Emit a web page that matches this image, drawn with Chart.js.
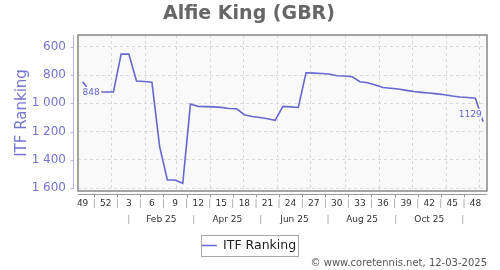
<!DOCTYPE html>
<html>
<head>
<meta charset="utf-8">
<script src="https://cdn.jsdelivr.net/npm/chart.js@4.4.1/dist/chart.umd.min.js"></script>
<style>
html,body{margin:0;padding:0;background:#ffffff;}
#c{display:block;}
</style>
</head>
<body>
<canvas id="c" width="500" height="270" style="width:500px;height:270px"></canvas>
<script>
// ---------- data ----------
const chartTitle = 'Alfie King (GBR)';
const seriesName = 'ITF Ranking';
const creditText = '\u00A9 www.coretennis.net, 12-03-2025';
// weekly ranking, week 49 (2024) .. week 49 (2025)
const rankings = [
  848, 920, 920, 920, 920, 652, 652, 842, 846, 851,
  1306, 1541, 1541, 1565, 1005, 1021, 1023, 1025, 1028, 1036,
  1038, 1080, 1093, 1100, 1108, 1120, 1021, 1025, 1029, 784,
  786, 789, 792, 805, 807, 812, 847, 854, 870, 888,
  893, 899, 908, 916, 922, 927, 933, 939, 948, 955,
  959, 963, 1129
];
const weekTickLabels = ['49','52','3','6','9','12','15','18','21','24','27','30','33','36','39','42','45','48'];
const weekTickStep = 3;
const yTicks = [600, 800, 1000, 1200, 1400, 1600];
const monthLabels = ['Feb 25', 'Apr 25', 'Jun 25', 'Aug 25', 'Oct 25'];
const monthLabelMonths = [[2025,1],[2025,3],[2025,5],[2025,7],[2025,9]];
const monthSepMonths = [[2025,0],[2025,2],[2025,4],[2025,6],[2025,8],[2025,10]];
const monthGridStarts = [[2025,0],[2025,1],[2025,2],[2025,3],[2025,4],[2025,5],[2025,6],[2025,7],[2025,8],[2025,9],[2025,10],[2025,11]];
const firstPointDate = Date.UTC(2024, 11, 5, 12);

// ---------- helpers ----------
const WEEK = 7 * 86400000;
const posOfDate = t => (t - firstPointDate) / WEEK;
const monthStart = ([y, m]) => posOfDate(Date.UTC(y, m, 1));
const monthMid = ([y, m]) => (posOfDate(Date.UTC(y, m, 1)) + posOfDate(Date.UTC(y, m + 1, 1))) / 2;

const weekTicks = [];
weekTickLabels.forEach((lab, i) => {
  weekTicks.push({ value: i * weekTickStep, label: lab });
  if (i < weekTickLabels.length - 1) weekTicks.push({ value: i * weekTickStep + weekTickStep / 2, label: '|' });
});
const monthTicks = [];
monthSepMonths.forEach((m, i) => {
  monthTicks.push({ value: monthMid(m), label: '|' });
  if (i < monthLabels.length) monthTicks.push({ value: monthMid(monthLabelMonths[i]), label: monthLabels[i] });
});
const gridTicks = monthGridStarts.map(m => ({ value: monthStart(m) }));

const LINE = '#6767d0';
const AXIS_TEXT = '#7373d0';
const PLOT_BG = '#f9f9f9';
const fmt = v => String(v).replace(/\B(?=(\d{3})+(?!\d))/g, ' ');

Chart.defaults.font.family = "'DejaVu Sans', sans-serif";

const decor = {
  id: 'decor',
  beforeDraw(chart) {
    const { ctx, chartArea: a } = chart;
    ctx.save();
    ctx.fillStyle = PLOT_BG;
    ctx.fillRect(a.left, a.top, a.right - a.left, a.bottom - a.top);
    ctx.restore();
  },
  afterDatasetsDraw(chart) {
    const { ctx } = chart;
    const meta = chart.getDatasetMeta(0);
    const n = meta.data.length;
    const p0 = meta.data[0], pN = meta.data[n - 1];
    const v0 = rankings[0], vN = rankings[n - 1];
    ctx.save();
    ctx.font = "9px 'DejaVu Sans'";
    ctx.textBaseline = 'alphabetic';
    // first label (below right)
    let t = String(v0), w = ctx.measureText(t).width;
    let bx = p0.x, by = p0.y + 13;
    ctx.fillStyle = PLOT_BG;
    ctx.fillRect(bx, by - 8, w + 1.5, 10);
    ctx.fillStyle = LINE;
    ctx.textAlign = 'left';
    ctx.fillText(t, bx, by);
    // last label (above left)
    t = String(vN); w = ctx.measureText(t).width;
    bx = pN.x - 1.5; by = pN.y - 5;
    ctx.fillStyle = PLOT_BG;
    ctx.fillRect(bx - w - 1, by - 8, w + 1.5, 10);
    ctx.fillStyle = LINE;
    ctx.textAlign = 'right';
    ctx.fillText(t, bx, by);
    ctx.restore();
  },
  afterDraw(chart) {
    const { ctx, chartArea: a, scales } = chart;
    ctx.save();
    // plot frame
    ctx.strokeStyle = '#868686';
    ctx.lineWidth = 1.5;
    ctx.strokeRect(a.left, a.top, a.right - a.left, a.bottom - a.top);
    // detached y axis line with ticks
    ctx.lineWidth = 1;
    ctx.strokeStyle = '#b6b6e6';
    const yx = Math.round(a.left - 5) + 0.5;
    ctx.beginPath();
    ctx.moveTo(yx, a.top);
    ctx.lineTo(yx, a.bottom - 2);
    scales.y.ticks.forEach(tk => {
      const py = Math.round(scales.y.getPixelForValue(tk.value)) + 0.5;
      ctx.moveTo(yx, py);
      ctx.lineTo(yx - 3, py);
    });
    ctx.stroke();
    // detached x axis line with ticks at separators
    ctx.strokeStyle = '#9a9a9a';
    const xy = Math.round(a.bottom + 3) + 0.5;
    ctx.beginPath();
    ctx.moveTo(a.left, xy);
    ctx.lineTo(a.right, xy);
    scales.x.ticks.forEach(tk => {
      if (tk.label !== '|') return;
      const px = Math.round(scales.x.getPixelForValue(tk.value)) + 0.5;
      ctx.moveTo(px, xy);
      ctx.lineTo(px, xy + 3);
    });
    ctx.stroke();
    // legend frame
    const hb = chart.legend.legendHitBoxes[0];
    if (hb) {
      ctx.strokeStyle = '#a8a8a8';
      ctx.strokeRect(Math.round(hb.left - 1) + 0.5, Math.round(hb.top - 4.5) + 0.5, Math.round(hb.width + 3), 21);
    }
    ctx.restore();
  }
};

new Chart(document.getElementById('c'), {
  type: 'line',
  data: {
    datasets: [{
      label: seriesName,
      data: rankings.map((v, i) => ({ x: i, y: v })),
      borderColor: LINE,
      backgroundColor: LINE,
      borderWidth: 1.6,
      pointRadius: 0,
      tension: 0,
      fill: false,
      xAxisID: 'x',
      yAxisID: 'y'
    }]
  },
  options: {
    responsive: false,
    animation: false,
    events: [],
    layout: { padding: { left: 11, right: 13, top: 0, bottom: 0 } },
    plugins: {
      tooltip: { enabled: false },
      title: {
        display: true, text: chartTitle, color: '#666666',
        font: { size: 19, weight: 'bold' },
        padding: { top: 2.5, bottom: 9.7 }
      },
      subtitle: {
        display: true, text: creditText, position: 'bottom', align: 'end',
        color: '#555555', font: { size: 10 },
        padding: { top: -4.75, bottom: 1 }
      },
      legend: {
        display: true, position: 'bottom',
        labels: {
          usePointStyle: true, pointStyle: 'line', pointStyleWidth: 15,
          color: '#222222', font: { size: 12.5 }, padding: 13.25
        }
      }
    },
    scales: {
      x: {
        type: 'linear', position: 'bottom', weight: 1,
        min: -0.6, max: 52.5,
        afterBuildTicks: s => { s.ticks = weekTicks.map(t => ({ value: t.value })); },
        afterFit: s => { s.height = 19; },
        grid: { display: false, drawTicks: false },
        border: { display: false },
        ticks: {
          autoSkip: false, maxRotation: 0, minRotation: 0, padding: 7.3,
          font: { size: 9 },
          color: ctx => (weekTicks[ctx.index] && weekTicks[ctx.index].label === '|') ? '#9a9a9a' : '#333333',
          callback: (v, i) => weekTicks[i].label
        }
      },
      x2: {
        type: 'linear', position: 'bottom', weight: 2,
        min: -0.6, max: 52.5,
        afterBuildTicks: s => { s.ticks = monthTicks.map(t => ({ value: t.value })); },
        afterFit: s => { s.height = 16; },
        grid: { display: false, drawTicks: false },
        border: { display: false },
        ticks: {
          autoSkip: false, maxRotation: 0, minRotation: 0, padding: 4.6,
          font: { size: 9 },
          color: ctx => (monthTicks[ctx.index] && monthTicks[ctx.index].label === '|') ? '#9a9a9a' : '#333333',
          callback: (v, i) => monthTicks[i].label
        }
      },
      xg: {
        type: 'linear', position: 'bottom', weight: 0,
        min: -0.6, max: 52.5,
        afterBuildTicks: s => { s.ticks = gridTicks.map(t => ({ value: t.value })); },
        afterFit: s => { s.height = 0; },
        grid: { display: true, drawTicks: false, color: '#d9d9d9', lineWidth: 1 },
        border: { display: false, dash: [3, 3] },
        ticks: { display: false }
      },
      y: {
        type: 'linear', position: 'left', reverse: true,
        min: 517, max: 1619,
        afterBuildTicks: s => { s.ticks = yTicks.map(v => ({ value: v })); },
        afterFit: s => { s.width = 67; },
        grid: { display: true, drawTicks: false, color: '#d9d9d9', lineWidth: 1 },
        border: { display: false, dash: [3, 3] },
        title: {
          display: true, text: seriesName, color: AXIS_TEXT,
          font: { size: 15 }, padding: { top: 1.7, bottom: 0 }
        },
        ticks: {
          autoSkip: false, padding: 12, color: AXIS_TEXT,
          font: { size: 12 },
          callback: v => fmt(v)
        }
      }
    }
  },
  plugins: [decor]
});
</script>
</body>
</html>
